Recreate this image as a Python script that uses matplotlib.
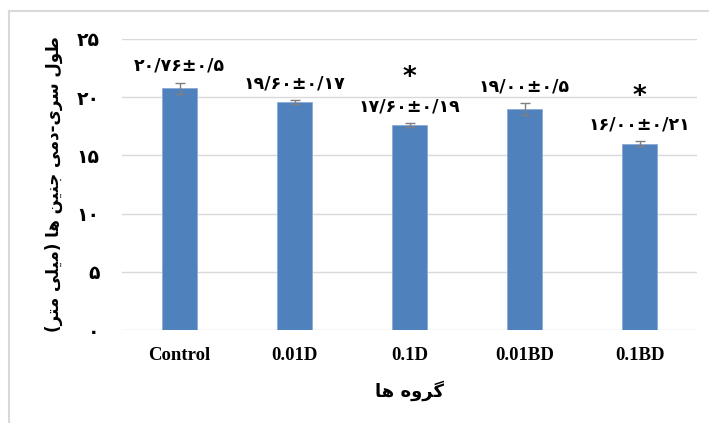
import matplotlib
matplotlib.use("Agg")
import matplotlib.pyplot as plt
from matplotlib.lines import Line2D

groups = ["Control", "0.01D", "0.1D", "0.01BD", "0.1BD"]
lengths = [20.76, 19.60, 17.60, 19.00, 16.00]
errors = [0.5, 0.17, 0.19, 0.5, 0.21]
value_labels = ["۲۰/۷۶±۰/۵", "۱۹/۶۰±۰/۱۷", "۱۷/۶۰±۰/۱۹", "۱۹/۰۰±۰/۵", "۱۶/۰۰±۰/۲۱"]
significant = [False, False, True, False, True]
y_ticks = [0, 5, 10, 15, 20, 25]
y_tick_labels = ["۰", "۵", "۱۰", "۱۵", "۲۰", "۲۵"]
x_title = "گروه ها"
y_title = "طول سری-دمی جنین ها (میلی متر)"

# matplotlib has no arabic shaping, so pick the presentation forms by hand
# isolated, final, initial, medial
FORMS = {
    "ا": ("\uFE8D", "\uFE8E", None, None),
    "د": ("\uFEA9", "\uFEAA", None, None),
    "ر": ("\uFEAD", "\uFEAE", None, None),
    "و": ("\uFEED", "\uFEEE", None, None),
    "ط": ("\uFEC1", "\uFEC2", "\uFEC3", "\uFEC4"),
    "ل": ("\uFEDD", "\uFEDE", "\uFEDF", "\uFEE0"),
    "س": ("\uFEB1", "\uFEB2", "\uFEB3", "\uFEB4"),
    "ی": ("\uFBFC", "\uFBFD", "\uFBFE", "\uFBFF"),
    "م": ("\uFEE1", "\uFEE2", "\uFEE3", "\uFEE4"),
    "ج": ("\uFE9D", "\uFE9E", "\uFE9F", "\uFEA0"),
    "ن": ("\uFEE5", "\uFEE6", "\uFEE7", "\uFEE8"),
    "ه": ("\uFEE9", "\uFEEA", "\uFEEB", "\uFEEC"),
    "ت": ("\uFE95", "\uFE96", "\uFE97", "\uFE98"),
    "گ": ("\uFB92", "\uFB93", "\uFB94", "\uFB95"),
}


def shape(text):
    out = []
    for i, ch in enumerate(text):
        if ch not in FORMS:
            out.append(ch)
            continue
        prev = text[i - 1] if i > 0 else ""
        nxt = text[i + 1] if i + 1 < len(text) else ""
        joins_prev = prev in FORMS and FORMS[prev][2] is not None
        joins_next = nxt in FORMS and FORMS[ch][2] is not None
        iso, fin, ini, med = FORMS[ch]
        if joins_prev and joins_next:
            out.append(med)
        elif joins_prev:
            out.append(fin)
        elif joins_next:
            out.append(ini)
        else:
            out.append(iso)
    vis = "".join(reversed(out))
    return vis.translate(str.maketrans("()", ")("))


fa_font = ["DejaVu Sans", "Noto Sans"]

fig = plt.figure(figsize=(7.09, 4.23), dpi=100)
ax = fig.add_axes([122 / 709, 1 - 330 / 423, 575 / 709, 291 / 423])

x = list(range(len(groups)))
ax.bar(x, lengths, width=0.31, color="#4f81bd", edgecolor="#8eaad6", linewidth=0.6,
       yerr=errors, error_kw=dict(ecolor="#7f7f7f", elinewidth=1, capsize=3.5, capthick=1),
       zorder=3)

for i in x:
    top = lengths[i] + errors[i]
    ax.annotate(value_labels[i], (i, top), xytext=(0, 12), textcoords="offset points",
                ha="center", va="center", fontsize=12.5, fontweight="bold", family=fa_font)
    if significant[i]:
        ax.annotate("*", (i, top), xytext=(0, 32), textcoords="offset points",
                    ha="center", va="center", fontsize=19, fontweight="bold", family=fa_font)

ax.set_xlim(-0.5, 4.5)
ax.set_ylim(0, 25)
ax.set_yticks(y_ticks)
ax.set_yticklabels(y_tick_labels, fontsize=13.5, fontweight="bold", family=fa_font)
ax.set_xticks(x)
ax.set_xticklabels(groups, fontsize=13.5, fontweight="bold", family="Liberation Serif")
ax.tick_params(length=0)
ax.tick_params(axis="y", pad=16)
ax.tick_params(axis="x", pad=12)
ax.yaxis.grid(True, color="#d9d9d9", linewidth=1)
ax.set_axisbelow(True)
for s in ax.spines.values():
    s.set_visible(False)

ax.set_xlabel(shape(x_title), fontsize=13, fontweight="bold", family=fa_font, labelpad=12)
ax.set_ylabel(shape(y_title), fontsize=12, fontweight="bold", family=fa_font, labelpad=10)

# outer chart frame (runs off the right and bottom edge in the original)
fig.add_artist(Line2D([9 / 709, 1], [1 - 11 / 423, 1 - 11 / 423], color="#d9d9d9", lw=1.5,
                      transform=fig.transFigure))
fig.add_artist(Line2D([9 / 709, 9 / 709], [0, 1 - 11 / 423], color="#d9d9d9", lw=1.5,
                      transform=fig.transFigure))

fig.savefig("out.png", dpi=100)
